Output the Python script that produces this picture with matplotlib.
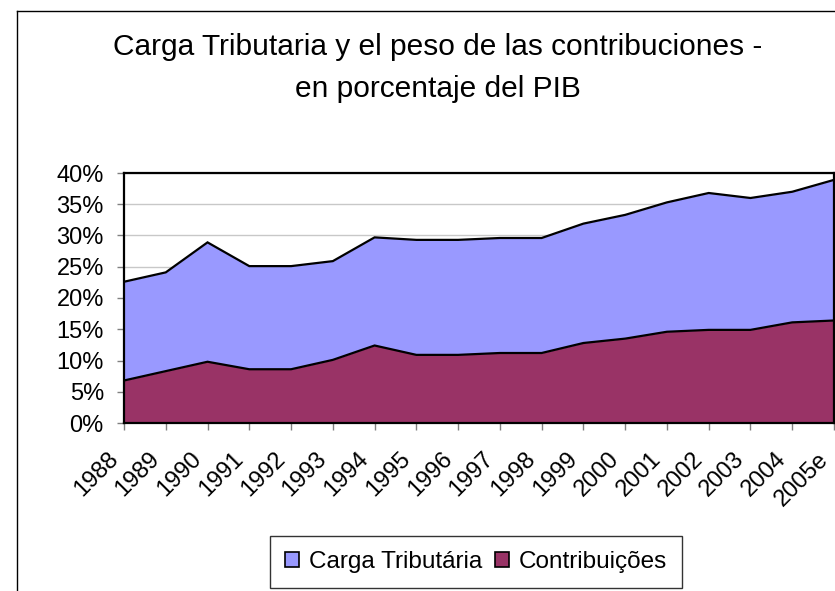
import matplotlib
matplotlib.use("Agg")
import matplotlib.pyplot as plt
import matplotlib.transforms as mtransforms
from matplotlib.patches import Patch
from matplotlib.lines import Line2D
from matplotlib.ticker import MultipleLocator, FuncFormatter

years = ["1988", "1989", "1990", "1991", "1992", "1993", "1994", "1995", "1996",
         "1997", "1998", "1999", "2000", "2001", "2002", "2003", "2004", "2005e"]
carga = [22.6, 24.1, 28.9, 25.1, 25.1, 25.9, 29.7, 29.3, 29.3,
         29.6, 29.6, 31.9, 33.3, 35.3, 36.8, 36.0, 37.0, 38.9]
contrib = [6.8, 8.3, 9.8, 8.6, 8.6, 10.1, 12.4, 10.9, 10.9,
           11.2, 11.2, 12.8, 13.5, 14.6, 14.9, 14.9, 16.1, 16.4]

plt.rcParams['font.family'] = ['Liberation Sans', 'DejaVu Sans']

W, H = 835, 591
fig = plt.figure(figsize=(W / 100, H / 100), dpi=100)

# outer chart border (left and top visible, rest cut off)
fig.add_artist(Line2D([17 / W, 17 / W], [0, 1 - 11 / H], transform=fig.transFigure,
                      color='black', lw=1.0))
fig.add_artist(Line2D([17 / W, 1], [1 - 11 / H, 1 - 11 / H], transform=fig.transFigure,
                      color='black', lw=1.0))

ax = fig.add_axes([124 / W, 1 - 423 / H, (834 - 124) / W, (423 - 173) / H])
x = list(range(len(years)))

ax.fill_between(x, 0, carga, color='#9999FF', zorder=2, linewidth=0)
ax.plot(x, carga, color='black', lw=1.6, zorder=3, solid_joinstyle='miter')
ax.fill_between(x, 0, contrib, color='#993366', zorder=4, linewidth=0)
ax.plot(x, contrib, color='black', lw=1.6, zorder=5, solid_joinstyle='miter')

ax.set_xlim(0, len(years) - 1)
ax.set_ylim(0, 40)
ax.yaxis.set_major_locator(MultipleLocator(5))
ax.yaxis.set_major_formatter(FuncFormatter(lambda v, p: f"{int(round(v))}%"))
ax.grid(axis='y', color='#C8C8C8', lw=1.0, zorder=1)
ax.set_axisbelow(True)

ax.set_xticks(x)
ax.set_xticklabels(years, rotation=45, ha='right', va='top', rotation_mode='anchor')
ax.tick_params(axis='both', direction='out', length=5, width=1.0, color='#808080',
               labelsize=17, labelcolor='black')
ax.tick_params(axis='x', pad=11)
ax.tick_params(axis='y', pad=9.5)

offset = mtransforms.ScaledTranslation(-0.17, -0.03, fig.dpi_scale_trans)
for lab in ax.get_xticklabels():
    lab.set_transform(lab.get_transform() + offset)

for s in ax.spines.values():
    s.set_color('black')
    s.set_linewidth(1.6)
    s.set_zorder(6)

fig.text(438 / W, 1 - 55 / H, "Carga Tributaria y el peso de las contribuciones -",
         ha='center', va='baseline', fontsize=21.5)
fig.text(438 / W, 1 - 97 / H, "en porcentaje del PIB",
         ha='center', va='baseline', fontsize=21.5)

handles = [Patch(facecolor='#9999FF', edgecolor='black', lw=1.2, label='Carga Tributária'),
           Patch(facecolor='#993366', edgecolor='black', lw=1.2, label='Contribuições')]
leg = fig.legend(handles=handles, loc='center', bbox_to_anchor=(476 / W, 1 - 562 / H),
                 ncol=2, fontsize=17.5, frameon=True, fancybox=False, edgecolor='black',
                 handlelength=0.6, handleheight=0.6, handletextpad=0.4, columnspacing=0.5,
                 borderpad=0.6, borderaxespad=0)
leg.get_frame().set_linewidth(1.0)

fig.savefig("out.png", dpi=100)
